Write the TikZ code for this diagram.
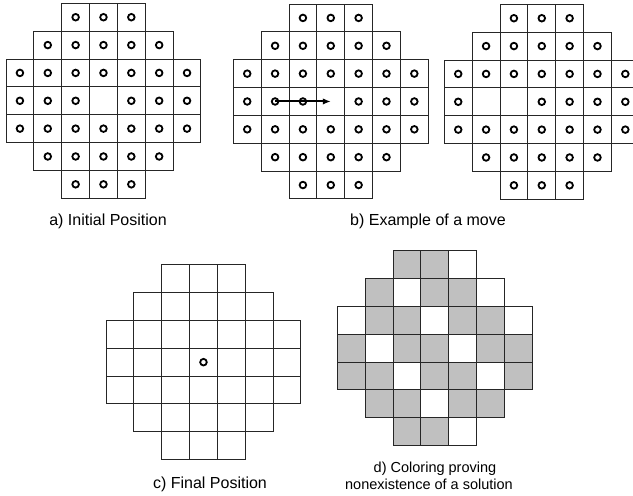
\documentclass[tikz,border=0pt]{standalone}
\usepackage{fontspec}
\setmainfont{Liberation Sans}
\usetikzlibrary{arrows.meta}
\definecolor{cellgray}{RGB}{192,192,192}
\def\cellsz{27.85}
\tikzset{
  cellbox/.style={draw=black!85,line width=1pt},
  peg/.style={circle,draw=black,line width=1.8pt,minimum size=6.6pt,inner sep=0pt},
  movearrow/.style={line width=2pt,-{Latex[length=8pt,width=6.5pt]}},
  caption/.style={font=\fontsize{16}{19}\selectfont,anchor=base,inner sep=0pt},
  smallcaption/.style={font=\fontsize{14.5}{17}\selectfont,anchor=base,inner sep=0pt,align=center},
}
\newcommand\boardgrid{%
  \foreach \r/\a/\b in {0/2/4,1/1/5,2/0/6,3/0/6,4/0/6,5/1/5,6/2/4}{%
    \foreach \c in {\a,...,\b}{%
      \draw[cellbox] ({\c*\cellsz},{\r*\cellsz}) rectangle ++(\cellsz,\cellsz);
    }}}
\newcommand\boardpegs[2]{%
  \foreach \r/\a/\b in {0/2/4,1/1/5,2/0/6,3/0/6,4/0/6,5/1/5,6/2/4}{%
    \foreach \c in {\a,...,\b}{%
      \pgfmathtruncatemacro\pegskip{#2}%
      \ifnum\pegskip=0
        \node[peg] (#1-\c-\r) at ({(\c+0.5)*\cellsz},{(\r+0.5)*\cellsz}) {};
      \fi
    }}}
\begin{document}
\begin{tikzpicture}[x=1pt,y=-1pt]
\clip (0,0) rectangle (633,496);
\fill[white] (0,0) rectangle (633,496);
% a) initial position
\begin{scope}[shift={(6,3.3)}]
  \boardgrid
  \boardpegs{a}{and(\r==3,\c==3)}
\end{scope}
% b) move, before
\begin{scope}[shift={(233.3,4)}]
  \boardgrid
  \boardpegs{b}{and(\r==3,\c==3)}
  \coordinate (b-3-3) at ({3.5*\cellsz},{3.5*\cellsz});
\end{scope}
\draw[movearrow] (b-1-3.center) -- (b-3-3);
% b) move, after
\begin{scope}[shift={(444.3,4.3)}]
  \boardgrid
  \boardpegs{bb}{and(\r==3,or(\c==1,\c==2))}
\end{scope}
% c) final position
\begin{scope}[shift={(106,264.7)}]
  \boardgrid
  \boardpegs{c}{or(\r!=3,\c!=3)}
\end{scope}
% d) coloring
\begin{scope}[shift={(337.3,250.7)}]
  \foreach \r/\a/\b in {0/2/4,1/1/5,2/0/6,3/0/6,4/0/6,5/1/5,6/2/4}{%
    \foreach \c in {\a,...,\b}{%
      \pgfmathtruncatemacro\colr{mod(\c-\r+6,3)}%
      \ifnum\colr=1 \def\fc{white}\else\def\fc{cellgray}\fi
      \draw[cellbox,fill=\fc] ({\c*\cellsz},{\r*\cellsz}) rectangle ++(\cellsz,\cellsz);
    }}
\end{scope}
% captions
\node[caption] (capa) at (108,225) {a) Initial Position};
\node[caption] (capb) at (428,225) {b) Example of a move};
\node[caption] (capc) at (210,488) {c) Final Position};
\node[smallcaption] (capd1) at (435,472.5) {d) Coloring proving};
\node[smallcaption] (capd2) at (429,489.5) {nonexistence of a solution};
\end{tikzpicture}
\end{document}
